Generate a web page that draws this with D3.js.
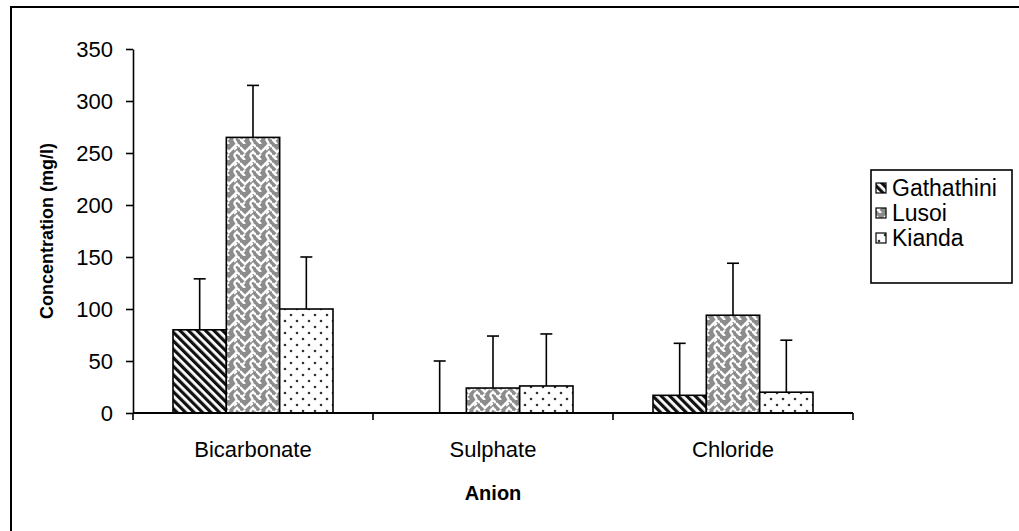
<!DOCTYPE html>
<html>
<head>
<meta charset="utf-8">
<script src="https://cdn.jsdelivr.net/npm/d3@7"></script>
<style>
  body { margin: 0; background: #fff; }
  svg { font-family: "Liberation Sans", Arial, sans-serif; }
</style>
</head>
<body>
<div id="chart"></div>
<script>
const anions = ["Bicarbonate", "Sulphate", "Chloride"];
const sites = ["Gathathini", "Lusoi", "Kianda"];
const gathathini = [80, 0, 17];
const lusoi = [265, 24, 94];
const kianda = [100, 26, 20];
const gathathiniErr = [49, 50, 50];
const lusoiErr = [50, 50, 50];
const kiandaErr = [50, 50, 50];
const yTicks = [0, 50, 100, 150, 200, 250, 300, 350];

const width = 1019, height = 531;
const plot = { left: 133, right: 853, top: 49, bottom: 413 };

// build rows for drawing
const values = { Gathathini: gathathini, Lusoi: lusoi, Kianda: kianda };
const errors = { Gathathini: gathathiniErr, Lusoi: lusoiErr, Kianda: kiandaErr };
const rows = [];
anions.forEach((a, i) => {
    sites.forEach(s => rows.push({ anion: a, site: s, value: values[s][i], err: errors[s][i] }));
});

const svg = d3.select("#chart").append("svg")
    .attr("width", width)
    .attr("height", height);

const defs = svg.append("defs");

// Gathathini: dense dark diagonal stripes
const p1 = defs.append("pattern")
    .attr("id", "pat-gathathini")
    .attr("patternUnits", "userSpaceOnUse")
    .attr("width", 6).attr("height", 6)
    .attr("patternTransform", "rotate(-45)");
p1.append("rect").attr("width", 6).attr("height", 6).attr("fill", "#fff");
p1.append("rect").attr("width", 3.2).attr("height", 6).attr("fill", "#111");

// Lusoi: grey weave with white chevrons
const p2 = defs.append("pattern")
    .attr("id", "pat-lusoi")
    .attr("patternUnits", "userSpaceOnUse")
    .attr("width", 16).attr("height", 16);
p2.append("rect").attr("width", 16).attr("height", 16).attr("fill", "#8c8c8c");
p2.append("path")
    .attr("d", "M0,3 L5,8 L10,3 M10,3 L13,0 M0,11 L5,16 M10,11 L13,8 L16,11 M13,16 L10,11 M16,3 L13,0")
    .attr("fill", "none").attr("stroke", "#fff").attr("stroke-width", 2.4);
p2.append("path")
    .attr("d", "M2,13 L5,10 M10,6 L13,3")
    .attr("fill", "none").attr("stroke", "#fff").attr("stroke-width", 1.8);

// Kianda: sparse dots
const p3 = defs.append("pattern")
    .attr("id", "pat-kianda")
    .attr("patternUnits", "userSpaceOnUse")
    .attr("width", 12).attr("height", 12);
p3.append("rect").attr("width", 12).attr("height", 12).attr("fill", "#fff");
p3.append("circle").attr("cx", 3).attr("cy", 3).attr("r", 1.3).attr("fill", "#333");
p3.append("circle").attr("cx", 9).attr("cy", 9).attr("r", 1.3).attr("fill", "#333");

const fills = { Gathathini: "url(#pat-gathathini)", Lusoi: "url(#pat-lusoi)", Kianda: "url(#pat-kianda)" };

// outer chart border (runs off right and bottom edges)
svg.append("rect")
    .attr("x", 11).attr("y", 7)
    .attr("width", 1020).attr("height", 540)
    .attr("fill", "none").attr("stroke", "#000").attr("stroke-width", 2);

const x0 = d3.scaleBand().domain(anions).range([plot.left, plot.right]).padding(0);
const x1 = d3.scaleBand().domain(sites).range([0, x0.bandwidth()]).paddingInner(0).paddingOuter(0.75);
const y = d3.scaleLinear().domain([0, 350]).range([plot.bottom, plot.top]);

// bars
svg.append("g")
    .selectAll("rect")
    .data(rows)
    .enter().append("rect")
    .attr("x", d => x0(d.anion) + x1(d.site))
    .attr("y", d => y(d.value))
    .attr("width", x1.bandwidth())
    .attr("height", d => y(0) - y(d.value))
    .attr("fill", d => fills[d.site])
    .attr("stroke", "#000")
    .attr("stroke-width", d => d.value > 0 ? 1.6 : 0);

// error bars (plus only)
const eb = svg.append("g").attr("stroke", "#000").attr("stroke-width", 1.6);
rows.forEach(d => {
    const cx = x0(d.anion) + x1(d.site) + x1.bandwidth() / 2;
    eb.append("line").attr("x1", cx).attr("x2", cx).attr("y1", y(d.value)).attr("y2", y(d.value + d.err));
    eb.append("line").attr("x1", cx - 6).attr("x2", cx + 6).attr("y1", y(d.value + d.err)).attr("y2", y(d.value + d.err));
});

// y axis
const yAxis = svg.append("g")
    .attr("transform", `translate(${plot.left},0)`)
    .call(d3.axisLeft(y).tickValues(yTicks).tickSize(7).tickPadding(13).tickSizeOuter(0));
yAxis.select(".domain").attr("stroke-width", 1.6);
yAxis.selectAll(".tick line").attr("stroke-width", 1.6);
yAxis.selectAll("text").attr("font-size", 22).attr("fill", "#000");

// x axis with ticks at category boundaries
const xAxis = svg.append("g")
    .attr("transform", `translate(0,${plot.bottom})`);
xAxis.append("line")
    .attr("x1", plot.left).attr("x2", plot.right)
    .attr("stroke", "#000").attr("stroke-width", 2);
xAxis.selectAll("line.tick")
    .data(anions.concat(["end"]))
    .enter().append("line")
    .attr("class", "tick")
    .attr("x1", (d, i) => plot.left + i * x0.step())
    .attr("x2", (d, i) => plot.left + i * x0.step())
    .attr("y1", 0).attr("y2", 7)
    .attr("stroke", "#000").attr("stroke-width", 1.6);
xAxis.selectAll("text")
    .data(anions)
    .enter().append("text")
    .attr("x", d => x0(d) + x0.bandwidth() / 2)
    .attr("y", 44)
    .attr("text-anchor", "middle")
    .attr("font-size", 22)
    .text(d => d);

// axis titles
svg.append("text")
    .attr("x", (plot.left + plot.right) / 2)
    .attr("y", 500)
    .attr("text-anchor", "middle")
    .attr("font-size", 20)
    .attr("font-weight", "bold")
    .text("Anion");

svg.append("text")
    .attr("transform", `translate(53,${(plot.top + plot.bottom) / 2}) rotate(-90)`)
    .attr("text-anchor", "middle")
    .attr("font-size", 18)
    .attr("font-weight", "bold")
    .text("Concentration (mg/l)");

// legend
const legend = svg.append("g").attr("transform", "translate(871,170)");
legend.append("rect")
    .attr("width", 141).attr("height", 113)
    .attr("fill", "#fff").attr("stroke", "#000").attr("stroke-width", 1.6);
const li = legend.selectAll("g.item")
    .data(sites)
    .enter().append("g")
    .attr("class", "item")
    .attr("transform", (d, i) => `translate(5,${18 + i * 25})`);
li.append("rect")
    .attr("x", 0).attr("y", -5)
    .attr("width", 10).attr("height", 10)
    .attr("fill", d => fills[d])
    .attr("stroke", "#000").attr("stroke-width", 1.2);
li.append("text")
    .attr("x", 16).attr("y", 8)
    .attr("font-size", 23)
    .text(d => d);
</script>
</body>
</html>
